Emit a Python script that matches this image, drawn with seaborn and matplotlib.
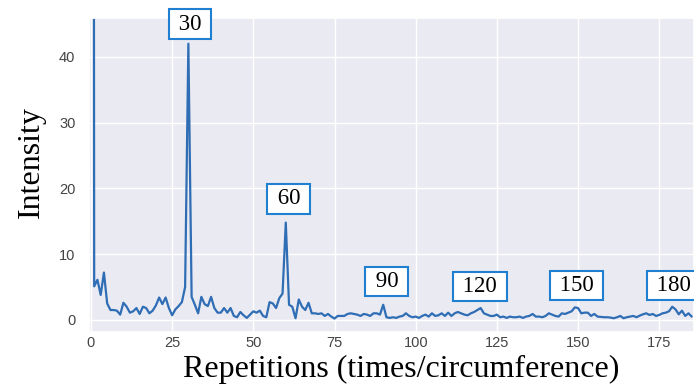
import numpy as np
import pandas as pd
import matplotlib
matplotlib.use("Agg")
import matplotlib.pyplot as plt
import seaborn as sns

intensity = [
    600.0,
    5.1, 6.1, 3.8, 7.2, 2.5, 1.5, 1.5, 1.4, 0.8, 2.6,
    2.0, 1.1, 1.3, 1.8, 0.9, 2.0, 1.8, 1.0, 1.4, 2.2,
    3.4, 2.4, 3.4, 1.8, 0.7, 1.6, 2.1, 2.7, 5.0, 42.0,
    3.5, 2.3, 1.0, 3.5, 2.4, 2.1, 3.5, 1.8, 1.1, 1.1,
    1.8, 1.1, 1.8, 0.6, 0.4, 1.2, 0.7, 0.3, 0.8, 1.3,
    1.1, 1.4, 0.6, 0.4, 2.7, 2.5, 1.8, 3.3, 4.0, 14.8,
    2.3, 2.0, 0.25, 3.1, 2.0, 1.5, 2.6, 1.0, 1.0, 0.9,
    1.0, 0.6, 0.9, 0.5, 0.2, 0.6, 0.6, 0.6, 0.9, 1.0,
    0.9, 0.8, 0.6, 0.9, 0.8, 0.6, 1.0, 1.0, 0.8, 2.3,
    0.4, 0.3, 0.4, 0.3, 0.5, 0.6, 1.0, 0.6, 0.4, 0.5,
    0.3, 0.6, 0.8, 0.5, 1.0, 0.6, 0.7, 1.0, 0.6, 1.1,
    0.6, 1.0, 1.2, 1.0, 0.8, 0.7, 1.0, 1.2, 1.5, 1.8,
    1.0, 0.8, 0.6, 0.6, 0.8, 0.4, 0.5, 0.3, 0.5, 0.4,
    0.4, 0.5, 0.3, 0.5, 0.6, 0.9, 0.5, 0.5, 0.4, 0.6,
    1.0, 0.8, 0.6, 0.5, 1.0, 0.9, 1.1, 1.3, 1.9, 1.8,
    1.0, 1.1, 1.1, 0.6, 0.9, 0.5, 0.45, 0.4, 0.4, 0.35,
    0.25, 0.4, 0.6, 0.25, 0.4, 0.5, 0.6, 0.4, 0.65, 0.85,
    1.0, 0.75, 0.9, 0.6, 0.75, 1.0, 1.1, 1.3, 2.0, 1.6,
    0.85, 1.4, 0.6, 1.0, 0.5,
]
repetitions = list(range(len(intensity)))

peak_labels = ["30", "60", "90", "120", "150", "180"]
peak_label_x = [30.5, 60.9, 91.1, 119.8, 149.5, 179.5]
peak_label_y = [45.0, 18.4, 5.8, 5.1, 5.2, 5.2]

x_ticks = [0, 25, 50, 75, 100, 125, 150, 175]
y_ticks = [0, 10, 20, 30, 40]

sns.set_theme(style="darkgrid")
plt.rcParams["font.family"] = ["Liberation Sans", "DejaVu Sans"]

df = pd.DataFrame({"rep": repetitions, "val": intensity})

fig = plt.figure(figsize=(6.94, 3.85), dpi=100)
ax = fig.add_axes([0.1287, 0.1384, 1 - 0.1287, 0.953 - 0.1384])

sns.lineplot(data=df, x="rep", y="val", ax=ax, color="#2f6db5", linewidth=1.6)

ax.set_xlim(-0.5, 185.7)
ax.set_ylim(-1.8, 45.9)
ax.set_xticks(x_ticks)
ax.set_yticks(y_ticks)
ax.tick_params(axis="both", length=0, labelsize=10.5, colors="#444444")
ax.tick_params(axis="y", pad=10)
ax.tick_params(axis="x", pad=3)

serif = ["Liberation Serif", "DejaVu Serif"]
ax.set_xlabel("Repetitions (times/circumference)", fontsize=23, family=serif, color="black")
ax.set_ylabel("Intensity", fontsize=23, family=serif, color="black")
ax.xaxis.set_label_coords(0.515, -0.074)
ax.yaxis.set_label_coords(-0.072, 0.54)

for lab, lx, ly in zip(peak_labels, peak_label_x, peak_label_y):
    ax.text(lx, ly, " " + lab + " ", ha="center", va="center", fontsize=16.5,
            family=serif, color="black", clip_on=False,
            bbox=dict(boxstyle="square,pad=0.18", facecolor="white",
                      edgecolor="#1f7fd0", linewidth=1.5))

fig.savefig("out.png", dpi=100)
